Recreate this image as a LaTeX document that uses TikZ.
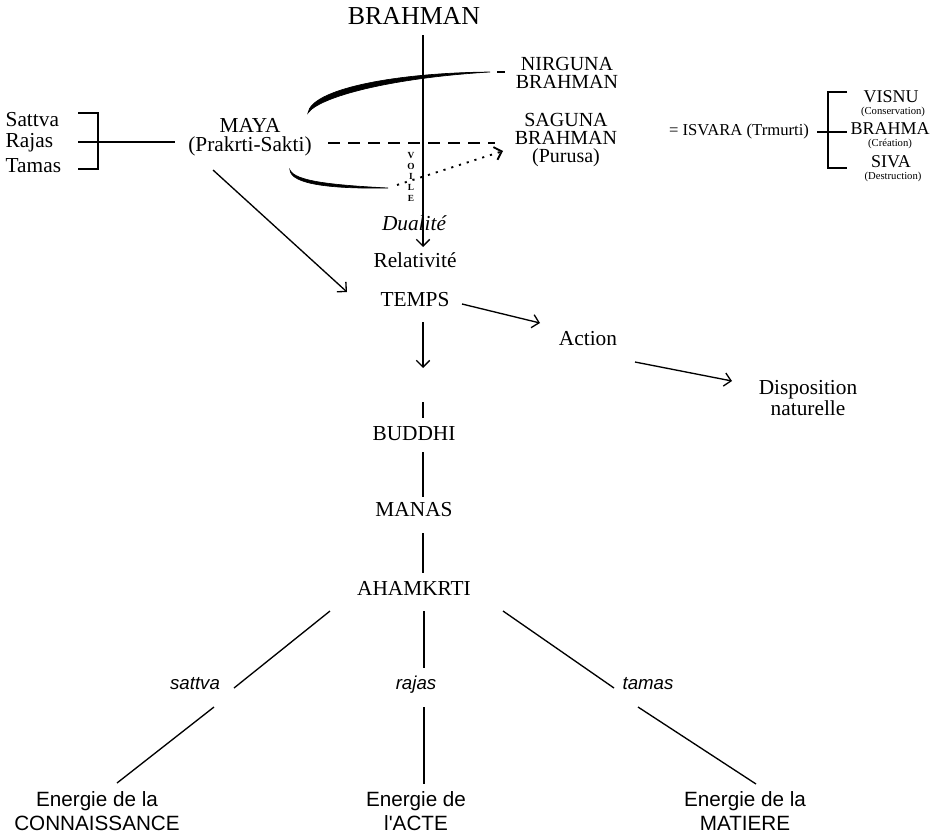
\documentclass[tikz,border=0pt]{standalone}
\usepackage{fontspec}
\setmainfont{Liberation Serif}
\newfontfamily\sansf{Liberation Sans}
\usetikzlibrary{arrows.meta}
\begin{document}
\begin{tikzpicture}[x=0.75pt,y=-0.75pt,line width=1pt,
  txt/.style={inner sep=0pt,align=center,font=\fontsize{16}{14}\selectfont},
  bigtxt/.style={inner sep=0pt,font=\fontsize{19.4}{20}\selectfont},
  midtxt/.style={inner sep=0pt,align=center,font=\fontsize{15}{13.5}\selectfont},
  isvtxt/.style={inner sep=0pt,font=\fontsize{12.5}{12.5}\selectfont},
  godtxt/.style={inner sep=0pt,font=\fontsize{13.5}{13.5}\selectfont},
  smalltxt/.style={inner sep=0pt,font=\fontsize{8}{8}\selectfont},
  voiletxt/.style={inner sep=0pt,font=\bfseries\fontsize{7}{7}\selectfont},
  sanstxt/.style={inner sep=0pt,align=center,font=\sansf\fontsize{15.5}{18}\selectfont},
  sansit/.style={inner sep=0pt,anchor=base,font=\sansf\itshape\fontsize{14}{14}\selectfont},
  arr/.style={-{Straight Barb[length=5pt,width=10pt]}},
  ink/.style={fill=black,draw=black,line width=0.5pt},
  dashline/.style={dash pattern=on 9pt off 6pt,line width=1.2pt},
  dotline/.style={dash pattern=on 1.6pt off 4.5pt,line width=1.4pt}]
\useasboundingbox (0,0) rectangle (948,835);

% ---- nodes ----
\node[bigtxt] (brahman) at (414,16) {BRAHMAN};
\node[midtxt] (nirguna) at (567,73) {NIRGUNA\\BRAHMAN};
\node[midtxt] (saguna) at (566,140) {SAGUNA\\BRAHMAN\\(Purusa)};
\node[isvtxt] (isvara) at (739,131) {= ISVARA (Trmurti)};
\node[godtxt] (visnu) at (891,97) {VISNU};
\node[smalltxt] (conserv) at (893,112) {(Conservation)};
\node[godtxt] (brahma) at (890,129) {BRAHMA};
\node[smalltxt] (creation) at (890,144) {(Création)};
\node[godtxt] (siva) at (891,162) {SIVA};
\node[smalltxt] (destr) at (893,177) {(Destruction)};

\node[txt,anchor=west] (gsattva) at (5,120) {Sattva};
\node[txt,anchor=west] (grajas) at (5,143) {Rajas};
\node[txt,anchor=west] (gtamas) at (5,166) {Tamas};
\node[txt] (maya) at (250,137) {MAYA\\(Prakrti-Sakti)};

\node[voiletxt] (vV) at (411,156) {V};
\node[voiletxt] (vO) at (411,166) {O};
\node[voiletxt] (vI) at (411,176) {I};
\node[voiletxt] (vL) at (411,187) {L};
\node[voiletxt] (vE) at (411,198) {E};

\node[txt,font=\itshape\fontsize{16}{14}\selectfont] (dualite) at (414,223) {Dualité};
\node[txt] (relat) at (415,260) {Relativité};
\node[txt] (temps) at (415,300) {TEMPS};
\node[txt] (action) at (588,339) {Action};
\node[txt,font=\fontsize{16}{12.5}\selectfont] (dispo) at (808,398) {Disposition\\naturelle};
\node[txt] (buddhi) at (414,434) {BUDDHI};
\node[txt] (manas) at (414,510) {MANAS};
\node[txt] (ahamkrti) at (414,588) {AHAMKRTI};

\node[sansit] (lsattva) at (195,689) {sattva};
\node[sansit] (lrajas) at (416,689) {rajas};
\node[sansit] (ltamas) at (648,689) {tamas};

\node[sanstxt] (econ) at (97,811) {Energie de la\\CONNAISSANCE};
\node[sanstxt] (eacte) at (416,811) {Energie de\\l'ACTE};
\node[sanstxt] (emat) at (745,811) {Energie de la\\MATIERE};

% ---- connector end points ----
\coordinate (bTop) at (423,35);
\coordinate (bBot) at (423,247);
\coordinate (mayaL) at (175,142);
\coordinate (brL) at (78,142);
\coordinate (brT) at (78,113);
\coordinate (brB) at (78,169);
\coordinate (rbT) at (847,92);
\coordinate (rbB) at (847,168);
\coordinate (rbM) at (847,132);
\coordinate (isvR) at (817,132);
\coordinate (dashS) at (328,143);
\coordinate (dashE) at (495,143);
\coordinate (dotS) at (397,185);
\coordinate (dotE) at (503,151);
\coordinate (mayaA) at (213,170);
\coordinate (tempsA) at (347,292);
\coordinate (tempsR) at (462,304);
\coordinate (actionL) at (540,323);
\coordinate (actionR) at (635,362);
\coordinate (dispoL) at (732,381);
\coordinate (tempsB) at (423,322);
\coordinate (buddhiA) at (423,368);
\coordinate (buddhiT1) at (423,402);
\coordinate (buddhiT2) at (423,418);
\coordinate (buddhiB) at (423,452);
\coordinate (manasT) at (423,497);
\coordinate (manasB) at (423,533);
\coordinate (ahamT) at (423,573);
\coordinate (ahL) at (330,611);
\coordinate (sattvaT) at (234,688);
\coordinate (sattvaB) at (214,707);
\coordinate (econT) at (117,783);
\coordinate (ahM) at (424,611);
\coordinate (rajasT) at (424,668);
\coordinate (rajasB) at (424,707);
\coordinate (eacteT) at (424,784);
\coordinate (ahR) at (503,611);
\coordinate (tamasT) at (614,688);
\coordinate (tamasB) at (638,707);
\coordinate (ematT) at (756,784);

% ---- veil strokes ----
\path[ink] (308,113) .. controls (311,90) and (390,73) .. (490,72)
  .. controls (390,78) and (319,97) .. (308,113) -- cycle;
\draw[line width=1.2pt] (497,72) -- (505,72);
\path[ink] (290,170) .. controls (291,184) and (330,189) .. (388,188)
  .. controls (330,185) and (295,181) .. (290,170) -- cycle;

% ---- connectors ----
\draw[arr] (bTop) -- (bBot);
\draw (brT) -- (brT -| 98,0) -- (brB -| 98,0) -- (brB);
\draw (brL) -- (mayaL);
\draw (rbT) -- (rbT -| 828,0) -- (rbB -| 828,0) -- (rbB);
\draw (isvR) -- (rbM);
\draw[dashline] (dashS) -- (dashE);
\draw[dotline,arr] (dotS) -- (dotE);
\draw[arr] (mayaA) -- (tempsA);
\draw[arr] (tempsR) -- (actionL);
\draw[arr] (actionR) -- (dispoL);
\draw[arr] (tempsB) -- (buddhiA);
\draw (buddhiT1) -- (buddhiT2);
\draw (buddhiB) -- (manasT);
\draw (manasB) -- (ahamT);
\draw (ahL) -- (sattvaT);
\draw (sattvaB) -- (econT);
\draw (ahM) -- (rajasT);
\draw (rajasB) -- (eacteT);
\draw (ahR) -- (tamasT);
\draw (tamasB) -- (ematT);
\end{tikzpicture}
\end{document}
